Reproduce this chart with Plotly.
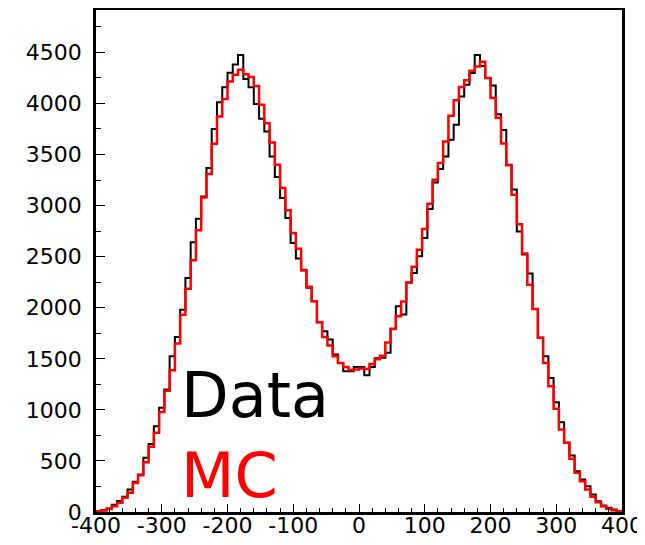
import numpy as np
import plotly.graph_objects as go

x_min, x_max, n_bins = -400, 400, 100

data_counts = [8, 18, 35, 70, 108, 150, 220, 295, 367, 530,
               667, 840, 1020, 1200, 1525, 1714, 1981, 2291, 2640, 2872,
               3090, 3368, 3750, 4012, 4158, 4300, 4382, 4474, 4240, 4158,
               3994, 3850, 3726, 3481, 3280, 3074, 2879, 2634, 2482, 2373,
               2196, 2063, 1857, 1769, 1688, 1541, 1460, 1378, 1378, 1420,
               1420, 1338, 1420, 1505, 1510, 1558, 1790, 2014, 1934, 2246,
               2340, 2503, 2683, 2967, 3227, 3358, 3481, 3645, 3792, 4068,
               4183, 4297, 4475, 4366, 4249, 4175, 3895, 3740, 3400, 3157,
               2747, 2520, 2334, 1988, 1705, 1525, 1313, 1074, 879, 677,
               553, 399, 318, 253, 171, 106, 64, 42, 24, 8]

mc_counts = [6, 15, 30, 57, 90, 139, 188, 285, 360, 487,
             638, 775, 980, 1186, 1388, 1649, 1932, 2187, 2465, 2758,
             3080, 3309, 3606, 3873, 4043, 4216, 4281, 4330, 4285, 4260,
             4170, 3987, 3805, 3618, 3400, 3172, 2955, 2732, 2578, 2365,
             2205, 2063, 1857, 1714, 1629, 1525, 1460, 1420, 1390, 1395,
             1405, 1400, 1450, 1495, 1530, 1660, 1795, 1916, 2060, 2246,
             2402, 2568, 2771, 3019, 3253, 3417, 3628, 3880, 4032, 4161,
             4228, 4321, 4362, 4408, 4249, 4053, 3860, 3608, 3395, 3107,
             2818, 2530, 2226, 1988, 1705, 1460, 1231, 1010, 807, 677,
             521, 384, 302, 220, 149, 96, 57, 31, 17, 6]

x_tick_vals = [-400, -300, -200, -100, 0, 100, 200, 300, 400]
x_tick_text = ["-400", "-300", "-200", "-100", "0", "100", "200", "300", "400"]
y_tick_vals = [0, 500, 1000, 1500, 2000, 2500, 3000, 3500, 4000, 4500]
y_tick_text = ["0", "500", "1000", "1500", "2000", "2500", "3000", "3500", "4000", "4500"]

edges = np.linspace(x_min, x_max, n_bins + 1)


def step_xy(counts):
    xs = list(edges)
    ys = list(counts) + [counts[-1]]
    return xs, ys


fig = go.Figure()
dx, dy = step_xy(data_counts)
fig.add_trace(go.Scatter(x=dx, y=dy, mode="lines", line=dict(color="black", width=2, shape="hv"),
                         name="Data", showlegend=False))
mx, my = step_xy(mc_counts)
fig.add_trace(go.Scatter(x=mx, y=my, mode="lines", line=dict(color="red", width=2.5, shape="hv"),
                         name="MC", showlegend=False))

tick_font = dict(family="DejaVu Sans, Liberation Sans, sans-serif", size=22, color="black")

fig.update_xaxes(range=[x_min, x_max], showgrid=False, zeroline=False, automargin=False,
                 showline=True, linecolor="black", linewidth=2.5, mirror=True,
                 ticks="inside", ticklen=8, tickwidth=1.2, tickcolor="black",
                 tickvals=x_tick_vals, ticktext=x_tick_text, tickfont=tick_font,
                 ticklabelstandoff=-8,
                 minor=dict(ticks="inside", ticklen=4, dtick=20, tickcolor="black", tickwidth=1.2))
fig.update_yaxes(range=[0, 4915], showgrid=False, zeroline=False, automargin=False,
                 showline=True, linecolor="black", linewidth=2.5, mirror=True,
                 ticks="inside", ticklen=9, tickwidth=1.2, tickcolor="black",
                 tickvals=y_tick_vals, ticktext=y_tick_text, tickfont=tick_font,
                 ticklabelstandoff=7,
                 minor=dict(ticks="inside", ticklen=5, dtick=250, tickcolor="black", tickwidth=1.2))

fig.add_annotation(text="Data", xref="paper", yref="paper", x=0.158, y=0.233,
                   xanchor="left", yanchor="middle", showarrow=False,
                   font=dict(family="DejaVu Sans", size=62, color="black"))
fig.add_annotation(text="MC", xref="paper", yref="paper", x=0.158, y=0.0737,
                   xanchor="left", yanchor="middle", showarrow=False,
                   font=dict(family="DejaVu Sans", size=62, color="red"))

fig.update_layout(width=637, height=537, margin=dict(l=88, r=23, t=2, b=33),
                  plot_bgcolor="white", paper_bgcolor="white")

fig.write_html("out.html")
